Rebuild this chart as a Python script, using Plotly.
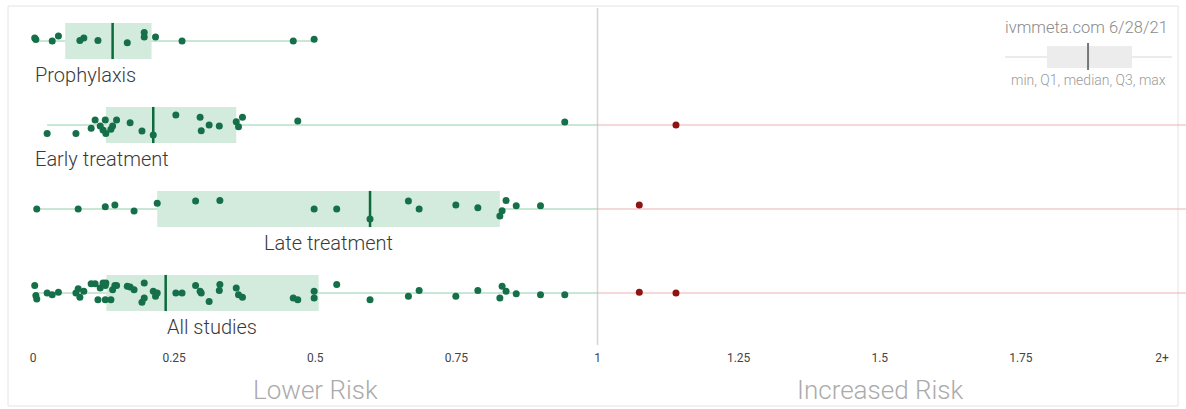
import plotly.graph_objects as go

# ---------------- data ----------------
groups = ["Prophylaxis", "Early treatment", "Late treatment", "All studies"]
rows = [3, 2, 1, 0]

prophylaxis = [0.003, 0.005, 0.034, 0.045, 0.083, 0.090, 0.115, 0.167, 0.197, 0.197,
               0.217, 0.264, 0.461, 0.498]
early = [0.025, 0.076, 0.103, 0.110, 0.119, 0.124, 0.128, 0.129, 0.138, 0.141, 0.148,
         0.172, 0.193, 0.213, 0.253, 0.296, 0.298, 0.312, 0.330, 0.360, 0.364, 0.371,
         0.469, 0.942, 1.139]
late = [0.0066, 0.080, 0.128, 0.145, 0.179, 0.220, 0.288, 0.331, 0.498, 0.538, 0.597,
        0.665, 0.684, 0.749, 0.788, 0.827, 0.831, 0.838, 0.856, 0.899, 1.074]
all_studies = sorted(prophylaxis + early + late)

# vertical scatter offsets of the dots (row units)
prophylaxis_jitter = [0.036, 0.019, 0.0, 0.06, 0.007, 0.036, 0.007, -0.02, 0.1, 0.048,
                      0.048, 0.0, 0.0, 0.02]
early_jitter = [-0.1, -0.1, -0.04, 0.06, -0.012, -0.06, 0.06, -0.1, -0.05, -0.012, 0.06,
                0.028, -0.072, -0.12, 0.12, 0.092, -0.068, 0.0, -0.012, 0.04, -0.02, 0.092,
                0.048, 0.036, 0.0]
late_jitter = [0.0, 0.0, 0.028, 0.048, -0.024, 0.068, 0.096, 0.1, 0.0, 0.0, -0.12, 0.096,
               0.0, 0.048, 0.016, -0.084, -0.02, 0.1, 0.04, 0.04, 0.048]
all_jitter = [0.09, -0.03, -0.07, 0.0, -0.02, 0.01, 0.0, 0.05, -0.05, 0.02,
              0.11, 0.11, -0.08, 0.06, 0.12, -0.08, 0.09, 0.12, -0.08, 0.04,
              0.09, 0.09, 0.08, 0.07, 0.04, -0.11, -0.06, 0.12, 0.02, -0.04,
              0.0, 0.0, 0.0, 0.09, 0.02, 0.0, -0.1, 0.03, 0.1, 0.06,
              -0.02, -0.05, -0.06, -0.08, 0.02, -0.06, 0.1, -0.08, -0.04, 0.03,
              -0.04, 0.03, -0.06, 0.08, 0.02, -0.01, -0.02, -0.02, 0.01, 0.0]

# box statistics (Q1, median, Q3) as drawn in the reference
q1_vals = [0.057, 0.129, 0.220, 0.130]
median_vals = [0.141, 0.213, 0.597, 0.235]
q3_vals = [0.210, 0.360, 0.827, 0.506]

tick_vals = [0, 0.25, 0.5, 0.75, 1, 1.25, 1.5, 1.75, 2]
tick_text = ["0", "0.25", "0.5", "0.75", "1", "1.25", "1.5", "1.75", "2+"]

title_text = "ivmmeta.com 6/28/21"
legend_text = "min, Q1, median, Q3, max"
side_labels = ["Lower Risk", "Increased Risk"]
side_label_x = [0.5, 1.5]

# ---------------- styling ----------------
GREEN = "#15704a"
RED = "#8e1414"
BOX_FILL = "#d3ebdc"
MEDIAN = "#0c6a3b"
WHISK_G = "#93cdad"
WHISK_R = "#ecb4b4"
FONT = "Roboto"

X_MIN, X_MAX = -0.0585, 2.0425
Y_MAX = 3.48810
Y_MIN = -0.61905
BOX_H = 0.215

series = [prophylaxis, early, late, all_studies]
jitters = [prophylaxis_jitter, early_jitter, late_jitter, all_jitter]

fig = go.Figure()
shapes = []
annotations = []

# frame
shapes.append(dict(type="rect", xref="paper", yref="paper", x0=0.00675, x1=0.9933,
                   y0=-0.1768, y1=0.9826, line=dict(color="#e4e4e4", width=1),
                   fillcolor="rgba(0,0,0,0)", layer="below"))
# no-effect line at 1
shapes.append(dict(type="line", xref="x", yref="paper", x0=1, x1=1, y0=0, y1=0.977,
                   line=dict(color="#d4d4d4", width=1.5), layer="below"))

for g, row, vals, jit, q1, med, q3 in zip(groups, rows, series, jitters,
                                           q1_vals, median_vals, q3_vals):
    vmin, vmax = min(vals), max(vals)
    # whisker line (green part up to 1, red part beyond)
    shapes.append(dict(type="line", xref="x", yref="y", x0=vmin, x1=min(vmax, 1),
                       y0=row, y1=row, line=dict(color=WHISK_G, width=1.2), layer="below"))
    if vmax > 1:
        shapes.append(dict(type="line", xref="x", yref="y", x0=1, x1=X_MAX,
                           y0=row, y1=row, line=dict(color=WHISK_R, width=1.2), layer="below"))
    # box
    shapes.append(dict(type="rect", xref="x", yref="y", x0=q1, x1=q3,
                       y0=row - BOX_H, y1=row + BOX_H, fillcolor=BOX_FILL,
                       line=dict(width=0), layer="below"))
    # median
    shapes.append(dict(type="line", xref="x", yref="y", x0=med, x1=med,
                       y0=row - BOX_H, y1=row + BOX_H,
                       line=dict(color=MEDIAN, width=2.5), layer="below"))
    colors = [GREEN if v <= 1 else RED for v in vals]
    fig.add_trace(go.Scatter(
        x=vals, y=[row + j for j in jit], mode="markers", name=g,
        marker=dict(size=7, color=colors, line=dict(width=0)),
        hoverinfo="x+name", showlegend=False))

# group labels
label_pos = {"Prophylaxis": (0.0, "left"), "Early treatment": (0.0, "left"),
             "Late treatment": (0.524, "center"), "All studies": (0.317, "center")}
for g, row in zip(groups, rows):
    lx, anc = label_pos[g]
    annotations.append(dict(x=lx, y=row - 0.4, xref="x", yref="y", text=g,
                            showarrow=False, xanchor=anc, yanchor="middle",
                            font=dict(family=FONT, size=20, color="#3a3a3a", weight=300)))

# side labels
for t, sx in zip(side_labels, side_label_x):
    annotations.append(dict(x=sx, y=-0.1304, xref="x", yref="paper", text=t,
                            showarrow=False, xanchor="center", yanchor="middle",
                            font=dict(family=FONT, size=26, color="#ababab", weight=300)))

# title
annotations.append(dict(x=0.9865, y=0.9217, xref="paper", yref="paper", text=title_text,
                        showarrow=False, xanchor="right", yanchor="middle",
                        font=dict(family=FONT, size=16.5, color="#8a8a8a", weight=300)))

# legend mini box plot
shapes.append(dict(type="line", xref="paper", yref="paper", x0=0.8474, x1=0.9882,
                   y0=0.8348, y1=0.8348, line=dict(color="#d8d8d8", width=1.2)))
shapes.append(dict(type="rect", xref="paper", yref="paper", x0=0.8828, x1=0.9545,
                   y0=0.8029, y1=0.8667, fillcolor="#ececec", line=dict(width=0)))
shapes.append(dict(type="line", xref="paper", yref="paper", x0=0.9174, x1=0.9174,
                   y0=0.7971, y1=0.8754, line=dict(color="#777777", width=2)))
annotations.append(dict(x=0.9174, y=0.768, xref="paper", yref="paper", text=legend_text,
                        showarrow=False, xanchor="center", yanchor="middle",
                        font=dict(family=FONT, size=14, color="#9a9a9a", weight=300)))

fig.update_layout(
    width=1186, height=409,
    margin=dict(l=0, r=0, t=0, b=64),
    paper_bgcolor="white", plot_bgcolor="white",
    shapes=shapes, annotations=annotations,
    xaxis=dict(range=[X_MIN, X_MAX], tickvals=tick_vals, ticktext=tick_text,
               showgrid=False, zeroline=False, showline=False, ticks="",
               ticklabelstandoff=4,
               tickfont=dict(family=FONT, size=12, color="#444444"),
               fixedrange=True),
    yaxis=dict(range=[Y_MIN, Y_MAX], visible=False, showgrid=False, zeroline=False,
               fixedrange=True),
    showlegend=False,
)

fig.write_html("out.html", config={"displayModeBar": False},
               post_script="document.body.style.margin='0';")
